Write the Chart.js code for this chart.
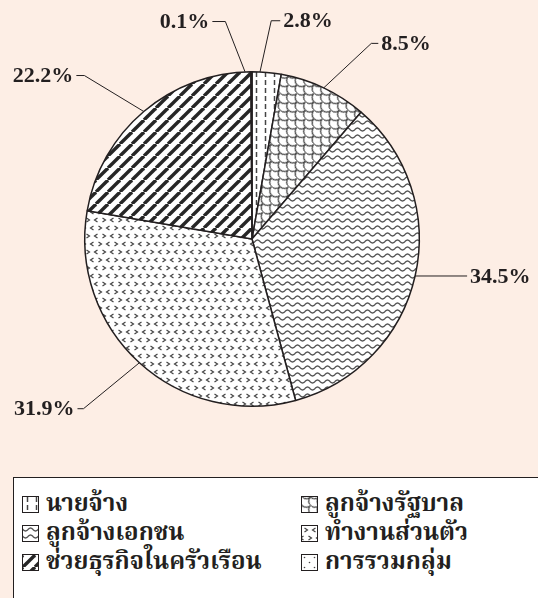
<!DOCTYPE html>
<html>
<head>
<meta charset="utf-8">
<script src="https://cdn.jsdelivr.net/npm/chart.js@4.4.1/dist/chart.umd.min.js"></script>
<style>
  html, body { margin: 0; padding: 0; }
  body {
    width: 538px; height: 598px; overflow: hidden; position: relative;
    background: #fdeee5;
    font-family: "Liberation Serif", "Norasi", "Noto Serif Thai", "Noto Sans Thai", serif;
  }
  #wrap { position: absolute; left: 0; top: 0; width: 538px; height: 470px; }
  #legend {
    position: absolute; left: 13px; top: 477px; width: 545px; height: 140px;
    background: #fff; border: 1.5px solid #231f20; box-sizing: border-box;
  }
  .item {
    position: absolute; display: flex; align-items: center;
    font-weight: bold; font-size: 24px; color: #231f20; white-space: nowrap;
  }
  .item canvas { border: 1.2px solid #231f20; margin-right: 7px; display: block; }
</style>
</head>
<body>
<div id="wrap"><canvas id="pie" width="538" height="470"></canvas></div>
<div id="legend"></div>

<script>
// Chart data
const categories = ['นายจ้าง', 'ลูกจ้างรัฐบาล', 'ลูกจ้างเอกชน', 'ทำงานส่วนตัว', 'ช่วยธุรกิจในครัวเรือน', 'การรวมกลุ่ม'];
const shares = [2.8, 8.5, 34.5, 31.9, 22.2, 0.1];

// Leader line tweaks (degrees / radius factor / tail px), one per slice
const edgeNudge = [-2.3, 0, 0, 0, 0, -2.2];
const elbowNudge = [0, 6, 0, 2.5, -5.4, -6.8];
const elbowFactor = [1.31, 1.37, 1.0, 1.43, 1.40, 1.31];
const tailLength = [9, 7, 52, 6, 8, 13];

const INK = '#231f20';

// Pattern tiles
function makeTile(w, h, draw) {
    const c = document.createElement('canvas');
    c.width = w; c.height = h;
    const g = c.getContext('2d');
    g.fillStyle = '#fff';
    g.fillRect(0, 0, w, h);
    g.strokeStyle = '#444';
    g.fillStyle = '#444';
    draw(g, w, h);
    return c;
}

function chevron(g, x, y, dir) {
    g.beginPath();
    g.moveTo(x - 1.5 * dir, y - 2);
    g.lineTo(x + 1.5 * dir, y);
    g.lineTo(x - 1.5 * dir, y + 2);
    g.stroke();
}

const tiles = [
    // dashes
    makeTile(9, 8, function(g) {
        g.lineWidth = 1.5;
        g.beginPath(); g.moveTo(4.5, 0); g.lineTo(4.5, 5); g.stroke();
    }),
    // scales
    makeTile(12, 12, function(g) {
        g.lineWidth = 1.1;
        [[6, 0], [0, 6], [12, 6], [6, 12]].forEach(p => {
            g.beginPath(); g.arc(p[0], p[1], 6, 0, Math.PI); g.stroke();
        });
    }),
    // waves
    makeTile(10, 7, function(g) {
        g.lineWidth = 1.3;
        g.strokeStyle = '#555';
        g.beginPath();
        for (let x = -1; x <= 11; x += 0.5) {
            const y = 3.5 + 1.5 * Math.sin(2 * Math.PI * x / 10);
            if (x === -1) g.moveTo(x, y); else g.lineTo(x, y);
        }
        g.stroke();
    }),
    // chevrons
    makeTile(16, 16, function(g) {
        g.lineWidth = 1.2;
        chevron(g, 4, 4, 1);
        chevron(g, 12, 4, -1);
        chevron(g, 8, 12, 1);
        chevron(g, 0, 12, -1);
        chevron(g, 16, 12, -1);
    }),
    // stripes
    makeTile(12, 12, function(g) {
        g.lineWidth = 3.4;
        g.strokeStyle = '#262626';
        [-12, 0, 12].forEach(k => {
            g.beginPath(); g.moveTo(k, 12); g.lineTo(k + 12, 0); g.stroke();
        });
    }),
    // dots
    makeTile(10, 10, function(g) {
        g.beginPath(); g.arc(2.5, 2.5, 0.8, 0, 2 * Math.PI); g.fill();
        g.beginPath(); g.arc(7.5, 7.5, 0.8, 0, 2 * Math.PI); g.fill();
    })
];

const pieCtx = document.getElementById('pie').getContext('2d');
const patterns = tiles.map((t, i) => {
    const p = pieCtx.createPattern(t, 'repeat');
    if (i === 1) p.setTransform(new DOMMatrix().rotateSelf(45));
    return p;
});

// Leader lines and percentage labels
const leaderLabels = {
    id: 'leaderLabels',
    afterDatasetsDraw(chart) {
        const ctx = chart.ctx;
        const arcs = chart.getDatasetMeta(0).data;
        ctx.save();
        ctx.strokeStyle = INK;
        ctx.fillStyle = INK;
        ctx.lineWidth = 1;
        ctx.font = 'bold 22px "Liberation Serif", serif';
        ctx.textBaseline = 'middle';
        arcs.forEach((arc, i) => {
            const mid = (arc.startAngle + arc.endAngle) / 2;
            const r = arc.outerRadius;
            const a0 = mid + edgeNudge[i] * Math.PI / 180;
            const a1 = mid + elbowNudge[i] * Math.PI / 180;
            const ex = arc.x + r * Math.cos(a0);
            const ey = arc.y + r * Math.sin(a0);
            const bx = arc.x + r * elbowFactor[i] * Math.cos(a1);
            const by = arc.y + r * elbowFactor[i] * Math.sin(a1);
            const side = bx >= arc.x ? 1 : -1;
            const tx = bx + side * tailLength[i];
            ctx.beginPath();
            ctx.moveTo(ex, ey);
            ctx.lineTo(bx, by);
            ctx.lineTo(tx, by);
            ctx.stroke();
            ctx.textAlign = side > 0 ? 'left' : 'right';
            ctx.fillText(shares[i].toFixed(1) + '%', tx + side * 3, by + 1);
        });
        ctx.restore();
    }
};

new Chart(pieCtx, {
    type: 'pie',
    data: {
        labels: categories,
        datasets: [{
            data: shares,
            backgroundColor: patterns,
            borderColor: INK,
            borderWidth: 1.5
        }]
    },
    options: {
        responsive: false,
        animation: false,
        layout: { padding: { left: 84, right: 118, top: 71, bottom: 63 } },
        plugins: {
            legend: { display: false },
            tooltip: { enabled: false }
        }
    },
    plugins: [leaderLabels]
});

// Legend: two columns, filled row by row
const legendBox = document.getElementById('legend');
const colX = [8, 287];
const rowY = [7, 36, 65];
categories.forEach((name, i) => {
    const item = document.createElement('div');
    item.className = 'item';
    item.style.left = colX[i % 2] + 'px';
    item.style.top = rowY[Math.floor(i / 2)] + 'px';
    const sw = document.createElement('canvas');
    sw.width = 15; sw.height = 15;
    const g = sw.getContext('2d');
    const p = g.createPattern(tiles[i], 'repeat');
    if (i === 1) p.setTransform(new DOMMatrix().rotateSelf(45));
    g.fillStyle = p;
    g.fillRect(0, 0, 15, 15);
    item.appendChild(sw);
    const label = document.createElement('span');
    label.textContent = name;
    item.appendChild(label);
    legendBox.appendChild(item);
});
</script>
</body>
</html>
